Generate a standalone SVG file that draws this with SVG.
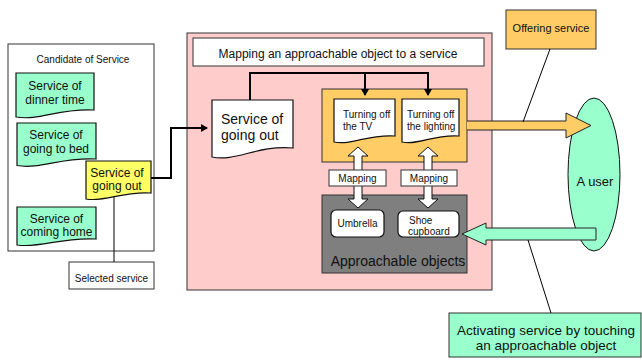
<svg xmlns="http://www.w3.org/2000/svg" width="642" height="360" viewBox="0 0 642 360">
<style>
text{font-family:"Liberation Sans",Arial,sans-serif;fill:#111}
.box{stroke:#333;stroke-width:1}
.doc{stroke:#111;stroke-width:1.2}
.green{fill:#99ffcc}
.orange{fill:#ffcc66}
.ln{fill:none;stroke:#000;stroke-width:1}
.conn{fill:none;stroke:#000;stroke-width:2}
.c{text-anchor:middle}
</style>
<defs>
<marker id="ah" markerWidth="8" markerHeight="8" refX="6" refY="4" orient="auto" markerUnits="userSpaceOnUse">
<path d="M0,0 L7,4 L0,8 Z" fill="#000"/>
</marker>
</defs>
<rect width="642" height="360" fill="#fff"/>

<g id="candidate">
<rect x="8" y="44" width="146" height="207" fill="#fff" class="box"/>
<text x="83" y="63" font-size="10" class="c">Candidate of Service</text>
</g>
<g id="doc-dinner">
<path d="M16,73 H94 V110 C58.9,108 39.4,121 16,117 Z" class="green doc"/>
<text x="55" y="89.5" font-size="12" class="c">Service of</text>
<text x="55" y="103.5" font-size="12" class="c">dinner time</text>
</g>
<g id="doc-bed">
<path d="M17,123 H96 V159 C60.5,157 40.7,169.5 17,165.5 Z" class="green doc"/>
<text x="56" y="138.5" font-size="12" class="c">Service of</text>
<text x="56" y="152.5" font-size="12" class="c">going to bed</text>
</g>
<g id="doc-goingout-selected">
<path d="M86,161 H151 V193 C121.8,191 105.5,202.5 86,199 Z" fill="#ffff66" class="doc"/>
<text x="117" y="176.5" font-size="12" class="c">Service of</text>
<text x="117" y="190" font-size="12" class="c">going out</text>
</g>
<g id="doc-home">
<path d="M17,207 H96 V239 C60.5,237 40.7,248.5 17,245 Z" class="green doc"/>
<text x="56.5" y="222.5" font-size="12" class="c">Service of</text>
<text x="56.5" y="236" font-size="12" class="c">coming home</text>
</g>
<g id="selected-service">
<rect x="69" y="262" width="85" height="27" fill="#fff" class="box"/>
<text x="111.5" y="281.5" font-size="10" class="c">Selected service</text>
</g>

<g id="mapping-area">
<rect x="187" y="33" width="305" height="257" fill="#ffcccc" class="box"/>
<rect x="193" y="38" width="291" height="28" fill="#fff" class="box"/>
<text x="338" y="58" font-size="12" class="c">Mapping an approachable object to a service</text>
</g>
<g id="doc-goingout">
<path d="M212,100 H293 V148 C256.5,145 236.3,162 212,157 Z" fill="#fff" class="doc"/>
<text x="221" y="124" font-size="14">Service of</text>
<text x="221" y="140" font-size="14">going out</text>
</g>
<g id="service-group">
<rect x="322" y="89" width="145" height="73" class="orange box"/>
</g>
<g id="doc-tv">
<path d="M334,99 H395 V136 C367.5,134 352.3,145.6 334,142 Z" fill="#fff" class="doc"/>
<text x="343" y="118" font-size="10">Turning off</text>
<text x="343" y="129.5" font-size="10">the TV</text>
</g>
<g id="doc-lighting">
<path d="M402,99 H459 V136 C433.4,134 419.1,145.6 402,142 Z" fill="#fff" class="doc"/>
<text x="407" y="118" font-size="10">Turning off</text>
<text x="407" y="129.5" font-size="10">the lighting</text>
</g>
<g id="objects">
<rect x="322" y="195" width="145" height="78" fill="#7f7f7f" class="box"/>
<text x="398" y="265.5" font-size="14" class="c">Approachable objects</text>
</g>
<g id="umbrella">
<rect x="331" y="210" width="53" height="27" rx="5" fill="#fff" stroke="#111" stroke-width="1.2"/>
<text x="357.5" y="227" font-size="10" class="c">Umbrella</text>
</g>
<g id="shoe-cupboard">
<rect x="398" y="211" width="61" height="26" rx="5" fill="#fff" stroke="#111" stroke-width="1.2"/>
<text x="409" y="223.5" font-size="10">Shoe</text>
<text x="408" y="234.5" font-size="10">cupboard</text>
</g>

<g id="user">
<ellipse cx="594" cy="174.5" rx="26" ry="76.5" fill="#99ffcc" stroke="#111" stroke-width="1"/>
<text x="595" y="186" font-size="13" class="c">A user</text>
</g>
<g id="offering-service">
<rect x="506" y="10" width="90" height="39" class="orange box"/>
<text x="551" y="32" font-size="11" class="c">Offering service</text>
</g>
<g id="activating">
<rect x="449" y="313" width="192" height="44" class="green box"/>
<text x="546" y="335" font-size="13.5" class="c">Activating service by touching</text>
<text x="546" y="350" font-size="13.5" class="c">an approachable object</text>
</g>

<g id="connectors">
<path d="M151,178 H171 V128 H207" class="conn" stroke-width="1.5" marker-end="url(#ah)"/>
<path d="M114,197 V262" class="ln"/>
<path d="M250,100 V73 H428 V95" class="conn" marker-end="url(#ah)"/>
<path d="M365,73 V95" class="conn" marker-end="url(#ah)"/>
<polygon points="358,147 368,156 362,156 362,199 368,199 358,208 348,199 354,199 354,156 348,156" fill="#fff" stroke="#111" stroke-width="1"/>
<polygon points="428,147 438,156 432,156 432,199 438,199 428,208 418,199 424,199 424,156 418,156" fill="#fff" stroke="#111" stroke-width="1"/>
<rect x="329" y="170" width="57" height="16" fill="#fff" class="box"/>
<text x="357.5" y="182" font-size="10" class="c">Mapping</text>
<rect x="401" y="170" width="56" height="16" fill="#fff" class="box"/>
<text x="429" y="182" font-size="10" class="c">Mapping</text>
<path d="M467,121 H566 V113 L591,125.5 L566,138 V130 H467 Z" class="orange"/>
<path d="M467,121 H566 V113 L591,125.5 L566,138 V130 H467" fill="none" stroke="#222" stroke-width="1"/>
<path d="M596,228 H486 V223 L462,234 L486,245 V240 H596 Z" fill="#99ffcc" stroke="#222" stroke-width="1"/>
<path d="M550,49 L523,122" class="ln"/>
<path d="M551,313 L528,240" class="ln"/>
</g>
</svg>
